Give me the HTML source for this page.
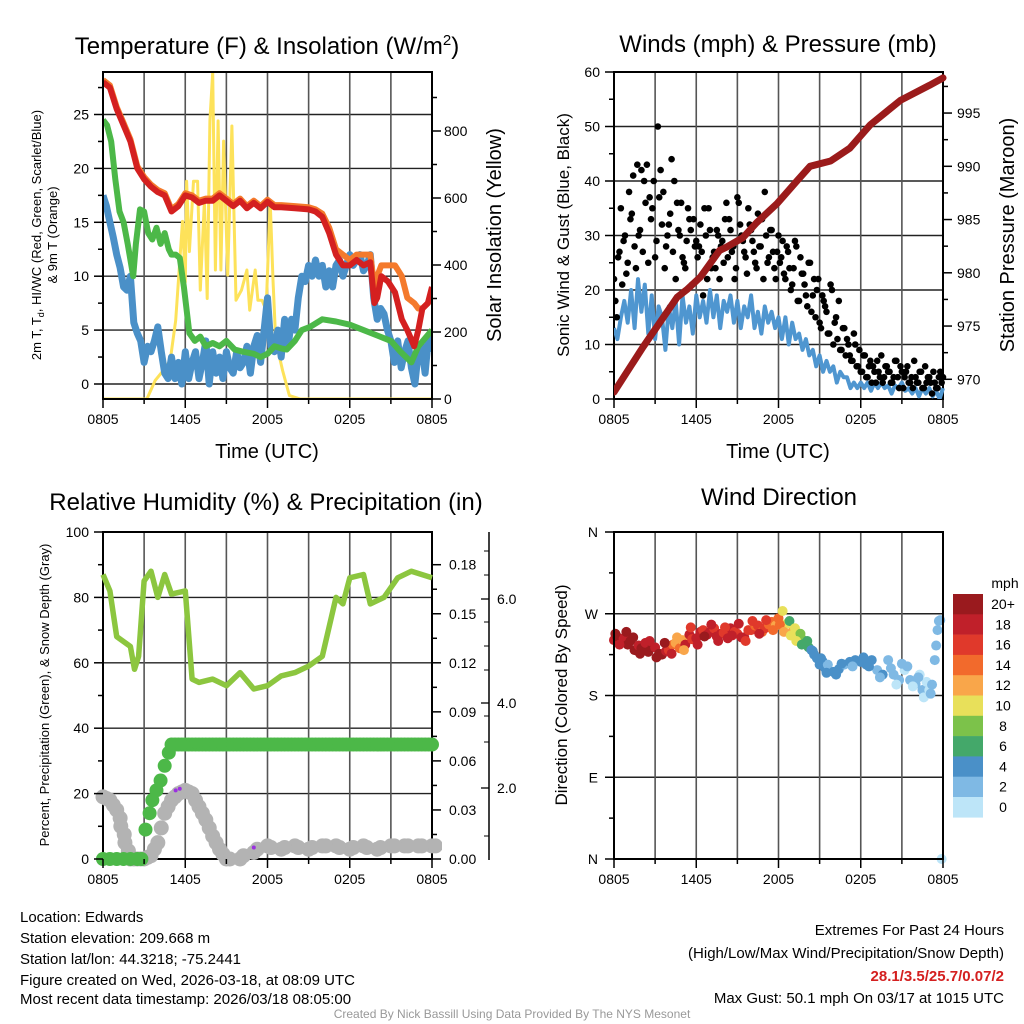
<!DOCTYPE html>
<html><head><meta charset="utf-8"><style>
body{margin:0;background:#fff}
svg{display:block;font-family:"Liberation Sans",Arial,sans-serif}
</style></head><body>
<svg id="s" width="1024" height="1024" viewBox="0 0 1024 1024" xmlns="http://www.w3.org/2000/svg">
<rect width="1024" height="1024" fill="#fff"/>
<g id="g1"></g>
<g id="g2"></g>
<g id="g3"></g>
<g id="g4"></g>
<text x="267" y="54" font-size="24" text-anchor="middle">Temperature (F) &amp; Insolation (W/m<tspan dy="-9" font-size="15">2</tspan><tspan dy="9">)</tspan></text>
<text x="778" y="52" font-size="24" text-anchor="middle">Winds (mph) &amp; Pressure (mb)</text>
<text x="266" y="510" font-size="24" text-anchor="middle">Relative Humidity (%) &amp; Precipitation (in)</text>
<text x="779" y="505" font-size="24" text-anchor="middle">Wind Direction</text>
<text x="267" y="458" font-size="20" text-anchor="middle">Time (UTC)</text>
<text x="778" y="458" font-size="20" text-anchor="middle">Time (UTC)</text>
<text transform="translate(41,235) rotate(-90)" font-size="13" text-anchor="middle">2m T, T<tspan font-size="9" dy="3">d</tspan><tspan dy="-3">, HI/WC (Red, Green, Scarlet/Blue)</tspan></text>
<text transform="translate(57,235) rotate(-90)" font-size="13" text-anchor="middle">&amp; 9m T (Orange)</text>
<text transform="translate(501,235) rotate(-90)" font-size="20" text-anchor="middle">Solar Insolation (Yellow)</text>
<text transform="translate(569,235) rotate(-90)" font-size="17" text-anchor="middle">Sonic Wind &amp; Gust (Blue, Black)</text>
<text transform="translate(1014,235) rotate(-90)" font-size="20" text-anchor="middle">Station Pressure (Maroon)</text>
<text transform="translate(49,695) rotate(-90)" font-size="13" text-anchor="middle">Percent, Precipitation (Green), &amp; Snow Depth (Gray)</text>
<text transform="translate(567,695) rotate(-90)" font-size="17" text-anchor="middle">Direction (Colored By Speed)</text>
<g font-size="15">
<text x="20" y="922">Location: Edwards</text>
<text x="20" y="943">Station elevation: 209.668 m</text>
<text x="20" y="964">Station lat/lon: 44.3218; -75.2441</text>
<text x="20" y="985">Figure created on Wed, 2026-03-18, at 08:09 UTC</text>
<text x="20" y="1004">Most recent data timestamp: 2026/03/18 08:05:00</text>
</g>
<g font-size="15" text-anchor="end">
<text x="1004" y="935">Extremes For Past 24 Hours</text>
<text x="1004" y="958">(High/Low/Max Wind/Precipitation/Snow Depth)</text>
<text x="1004" y="981" fill="#d42020" font-weight="bold">28.1/3.5/25.7/0.07/2</text>
<text x="1004" y="1003">Max Gust: 50.1 mph On 03/17 at 1015 UTC</text>
</g>
<text x="512" y="1018" font-size="12" fill="#999" text-anchor="middle">Created By Nick Bassill Using Data Provided By The NYS Mesonet</text>
</svg>
<script>
// ---- data ----
const xTickLabels = ["0805","1405","2005","0205","0805"];
const tempHours = [0,0.5,1,1.5,2,2.5,3,3.5,4,4.5,5,5.5,6,6.5,7,7.5,8,8.5,9,9.5,10,10.5,11,11.5,12,12.5,13,14,15,15.5,16,16.5,17,17.5,18,18.5,19,19.5,19.8,20,20.3,20.8,21.3,21.8,22.2,22.7,23,23.3,23.7,24];
const tempRed = [28,27.5,25.5,24,22.5,20,19,18.3,17.8,17.5,16,16.5,17.5,17.3,16.8,17,17,17.5,17,16.5,17,16.3,16.8,16.3,16.9,16.4,16.4,16.3,16.2,16,15.5,14,12,11,11,11.5,11,11.3,7.5,8,10,9.5,8.5,6,5,3.5,5,7,7.5,9];
const tempOrange = [28.2,27.7,25.7,24.2,22.7,20.2,19.2,18.5,18,17.7,16.2,16.7,17.7,17.5,17,17.2,17.2,17.7,17.2,16.7,17.2,16.5,17,16.5,17.1,16.6,16.6,16.5,16.4,16.2,15.8,14.5,12.5,12,11.5,12,12,12,9,10,11,11,11,10,8,7.5,7,7,7.5,8.5];
const greenHours = [0,0.3,0.6,0.9,1.2,1.5,1.8,2.2,2.4,2.7,3,3.3,3.6,3.9,4.2,4.5,4.8,5,5.3,5.6,5.9,6.3,6.7,7.1,7.5,8,8.5,9,9.6,10.2,11,11.5,12,12.5,13,13.4,14,14.5,15.1,16,17,18,19,20,21,21.7,22.5,23,24];
const tempGreen = [24.5,24,22.5,19,16,15,13,10,13,16.2,16,14,13.4,14.5,13,14,12.5,12,12,11.7,9,4.7,4,4.4,3.5,3.8,3.5,4,3.2,3,2.8,2.5,2.8,3.5,3.3,3.2,4,5,5.3,6,5.8,5.5,5,4.5,4,3,2,3.5,5];
const blueTemp = [17.5,16.5,15,13.6,12,10.8,9,8.7,10,5.7,4.7,4,2,3.5,3,4,5.3,3,1,0.5,2.5,0.5,2,0,3,0.5,2,3,0.5,2,4,0,3,1,2.5,0.5,3,1.5,1,3,1.5,2,3.5,1,3.5,4.5,2,5,8,3.5,3,5,2.5,6,3.5,6,5,8,10,9.5,11,10,11.5,10,11,9,10.5,9,11,11.5,10,11,12,11,11.5,12,10.5,11,12,8,6,7,6.5,5,4,2,4,1.5,3,4,1.5,0,3,3.5,1,4.5,3];
const solarHours = [0,3.2,3.8,4.4,4.9,5.3,5.8,6.0,6.1,6.3,6.6,6.9,7.1,7.4,7.6,7.8,8.0,8.2,8.4,8.6,8.8,9.1,9.4,9.7,10.1,10.5,10.7,11.1,11.3,11.6,11.9,12.2,12.4,12.6,13.1,13.6,14.4,24];
const solarWatts = [0,0,55,85,115,235,530,350,650,440,650,650,325,590,300,830,975,385,830,385,770,370,815,295,325,385,265,385,295,295,265,590,355,175,85,10,0,0];
const windBlue = [13,11,15,18,14,20,13,22,16,21,12,19,11,17,15,9,17,13,18,10,19,14,17,12,19,15,18,14,20,15,19,13,18,16,19,14,18,13,17,15,19,13,16,12,17,14,16,13,15,11,15,10,14,11,12,9,11,8,9,6,8,5,7,5,6,3,5,4,4,2,3,2,3,2,3,1.5,3,2,3,2,2.5,1,2.5,2,3,1.5,2,1,2,0.5,2,1,2,0.5,1.5,0,2];
const gustValues = [22,15,27,21,30,25,33,41,24,30,42,40,43,37,35,26,50,42,38,28,32,44,40,36,30,26,24,35,31,33,29,28,27,35,22,31,26,24,30,28,25,36,33,27,22,37,32,29,26,35,31,27,24,28,33,38,25,31,27,22,30,26,23,28,24,21,29,18,26,23,19,25,16,22,20,14,19,17,12,21,10,15,18,9,13,11,8,7,10,6,5,8,4,6,3,5,7,4,3,6,5,3,4,7,2,5,4,6,3,2,4,3,5,2,3,4,1,3,2,5,4];
const gustValues2 = [18,26,35,29,23,38,34,28,43,31,27,36,25,33,40,29,37,32,24,30,34,27,22,31,36,25,29,33,21,28,26,32,19,30,35,24,27,31,22,29,33,26,31,28,24,36,30,27,23,32,29,25,34,28,22,30,26,31,24,27,25,29,22,27,20,24,28,18,23,21,17,25,19,15,22,13,18,16,12,20,14,11,9,13,8,10,7,12,6,9,5,8,4,7,6,3,5,8,4,6,5,3,7,4,6,2,5,3,4,7,3,5,2,6,4,3,5,2,4,3];
const pressHours = [0,2.1,4.6,5.3,6.3,7.7,8.2,9.4,10.4,11.9,13.4,14.3,15.8,17.2,18.7,20.9,23,24];
const pressVals = [968.8,973,977.7,978.4,979.6,982.1,982.4,983.3,984.7,986.5,988.7,990,990.5,991.7,993.9,996.2,997.6,998.3];
const rhHours = [0,0.5,1,2,2.3,2.6,3,3.5,4,4.5,5,6,6.5,7,8,9,10,11,12,13,14,15,16,17,17.5,18,19,19.5,20.5,21.5,22.5,24];
const rhVals = [87,82,68,65,58,62,85,88,80,87,81,82,55,54,55,53,57,52,53,56,57,59,62,80,78,86,87,78,80,86,88,86];
const precipHours = [0,0.5,1,1.5,2,2.5,2.8,3.1,3.4,3.6,3.9,4.2,4.5,4.8,5];
const precipVals = [0,0,0,0,0,0,0,0.018,0.028,0.036,0.042,0.048,0.057,0.065,0.07];
const snowHours = [0,0.5,1,1.3,1.6,2,2.5,3,3.5,4,4.5,5,5.5,6,6.5,7,7.5,8,8.5,9,10,11,12,13,14,15,16,17,18,19,20,21,22,23,24];
const snowVals = [19,18,15,10,5,0,0,0,1,5,14,18,20,21,20,16,12,7,3,0,0,2,4,3,4,3,4,4,3,4,3,4,4,4,4];
const markHours = [5.3,5.6,11];
const markVals = [21,21.5,3.5];
const dirHours = [0,0.2,0.5,0.7,1,1.2,1.5,1.8,2,2.3,2.5,2.8,3,3.3,3.5,3.8,4,4.3,4.5,4.8,5,5.2,5.5,5.7,6,6.3,6.5,6.8,7,7.3,7.5,7.8,8,8.3,8.5,8.8,9,9.3,9.5,9.8,10,10.3,10.5,10.8,11,11.3,11.5,11.8,12,12.3,12.6,12.8,13,13.2,13.4,13.6,13.8,14,14.2,14.4,14.6,14.8,15,15.2,15.4,15.6,16,16.4,16.8,17.2,17.6,18,18.4,18.8,19.2,19.6,20,20.4,20.8,21.2,21.4,21.6,22,22.3,22.5,22.8,23,23.2,23.4,23.6,23.8,23.9,
0.1,0.4,0.9,1.4,1.9,2.6,3.1,3.7,4.2,4.6,5.1,5.6,6.1,6.6,7.1,7.6,8.1,8.6,9.1,9.6,10.1,10.6,11.1,11.6,12.1,12.4,12.9,13.3,13.7,14.1,14.5,15.1,15.5,16.2,16.6,17.4,18.2,18.6,19.4,20.2,20.6,21.0,21.8,22.2,22.6,23.1,23.5,23.7];
const dirDeg = [241,245,238,243,236,240,230,235,232,238,228,233,233,226,225,229,230,236,238,232,241,236,247,242,243,250,252,247,250,254,245,248,249,243,254,250,248,244,244,252,252,257,257,250,254,258,261,257,265,273,259,262,250,254,245,248,241,238,233,230,225,221,214,218,210,214,206,209,214,217,219,217,214,219,208,203,219,203,197,208,212,197,193,203,186,195,186,192,219,252,263,0,
248,236,250,244,226,240,222,238,226,244,230,255,236,245,258,240,255,246,259,240,262,248,263,252,258,250,246,240,236,240,229,221,205,203,215,212,222,212,200,210,192,215,190,200,178,182,235,262];
const dirSpd = [19,21,20,19,21,20,21,19,20,18,21,20,19,21,20,19,17,14,12,15,13,18,19,17,18,19,17,19,18,17,19,18,17,19,18,17,16,18,19,17,16,15,17,15,16,14,15,13,14,11,10,7,12,11,10,9,8,7,6,5,5,4,4,5,4,3,4,4,3,4,4,4,4,4,3,4,2,3,2,1,2,3,2,1,2,0,1,2,3,2,2,0,
20,19,21,20,20,19,21,20,18,13,12,16,19,20,18,19,17,19,18,17,16,18,17,14,15,12,11,10,7,6,4,4,4,4,4,3,4,4,2,2,1,2,1,2,1,2,2,2];
const spdColors = ["#bde5f8","#7fb9e4","#4a90c8","#44a86a","#7cc24a","#e8e05a","#f9a64a","#f26a2c","#e0392b","#c0202a","#9a1a1e"];
const spdLabels = ["0","2","4","6","8","10","12","14","16","18","20+"];

// ---- helpers ----
const NS="http://www.w3.org/2000/svg";
function mk(parent,tag,attrs){const e=document.createElementNS(NS,tag);for(const k in attrs)e.setAttribute(k,attrs[k]);parent.appendChild(e);return e;}
function txt(parent,x,y,s,anchor,size){const t=mk(parent,"text",{x:x,y:y,"text-anchor":anchor||"middle","font-size":size||14});t.textContent=s;return t;}
function pathFrom(xs,ys,fx,fy){let d="";for(let i=0;i<xs.length;i++)d+=(i?"L":"M")+fx(xs[i]).toFixed(1)+","+fy(ys[i]).toFixed(1);return d;}
function frame(g,x0,y0,x1,y1,hgrid,vgrid){
  for(const y of hgrid){const l=mk(g,"line",{x1:x0,x2:x1,y1:y,y2:y,stroke:"#222","stroke-width":1.4});}
  for(const x of vgrid){const l=mk(g,"line",{x1:x,x2:x,y1:y0,y2:y1,stroke:"#555","stroke-width":1.6});}
  const r=mk(g,"rect",{x:x0,y:y0,width:x1-x0,height:y1-y0,fill:"none",stroke:"#000","stroke-width":2});
  
  
}
function xAxis(g,x0,x1,y1,fx){
  for(let h=0;h<=24;h+=3){const x=fx(h);mk(g,"line",{x1:x,x2:x,y1:y1,y2:y1+(h%6?5:9),stroke:"#000","stroke-width":1.5});}
  xTickLabels.forEach((s,i)=>{const t=txt(g,fx(i*6),y1+25,s,"middle",14);});
}
function dots(g,xs,ys,fx,fy,r,color,name){
  for(let i=0;i<xs.length;i++){const c=mk(g,"circle",{cx:fx(xs[i]),cy:fy(ys[i]),r:r,fill:color});}
}

// ---- panel 1 ----
(function(){
const g=document.getElementById("g1");
const X0=103,X1=432,Y0=72,Y1=399;
const fx=h=>X0+h*(X1-X0)/24, fy=v=>384-v*10.78, fr=w=>399-w*0.335;
const hg=[0,5,10,15,20,25].map(fy), vg=[3,6,9,12,15,18,21].map(fx);
frame(g,X0,Y0,X1,Y1,hg,vg);
const clip=mk(g,"clipPath",{id:"c1"});mk(clip,"rect",{x:X0,y:Y0,width:X1-X0,height:Y1-Y0});
const pg=mk(g,"g",{"clip-path":"url(#c1)"});
const ys=mk(pg,"path",{d:pathFrom(solarHours,solarWatts,fx,fr),fill:"none",stroke:"#fde25a","stroke-width":3,"stroke-linejoin":"round"});

const bh=blueTemp.map((v,i)=>i*0.25);
const bl=mk(pg,"path",{d:pathFrom(bh,blueTemp,fx,fy),fill:"none",stroke:"#4a90c8","stroke-width":7,"stroke-linejoin":"round"});

const gl=mk(pg,"path",{d:pathFrom(greenHours,tempGreen,fx,fy),fill:"none",stroke:"#4cb848","stroke-width":6,"stroke-linejoin":"round"});

const ol=mk(pg,"path",{d:pathFrom(tempHours,tempOrange,fx,fy),fill:"none",stroke:"#f47a2c","stroke-width":6,"stroke-linejoin":"round"});

const rl=mk(pg,"path",{d:pathFrom(tempHours,tempRed,fx,fy),fill:"none",stroke:"#d42020","stroke-width":6,"stroke-linejoin":"round"});

mk(g,"rect",{x:X0,y:Y0,width:X1-X0,height:Y1-Y0,fill:"none",stroke:"#000","stroke-width":2});
for(let v=0;v<=27.5;v+=2.5){mk(g,"line",{x1:X0,x2:X0-(v%5?5:9),y1:fy(v),y2:fy(v),stroke:"#000","stroke-width":1.5});}
for(let v=0;v<=25;v+=5){const t=txt(g,X0-14,fy(v)+5,String(v),"end",14);}
for(let w=0;w<=900;w+=100){mk(g,"line",{x1:X1,x2:X1+(w%200?5:9),y1:fr(w),y2:fr(w),stroke:"#000","stroke-width":1.5});}
for(let w=0;w<=800;w+=200){const t=txt(g,X1+12,fr(w)+5,String(w),"start",14);}
xAxis(g,X0,X1,Y1,fx);
})();

// ---- panel 2 ----
(function(){
const g=document.getElementById("g2");
const X0=614,X1=943,Y0=72,Y1=399;
const fx=h=>X0+h*(X1-X0)/24, fy=v=>399-v*5.45, fp=p=>379.3-(p-970)*10.65;
const hg=[10,20,30,40,50].map(fy), vg=[3,6,9,12,15,18,21].map(fx);
frame(g,X0,Y0,X1,Y1,hg,vg);
const clip=mk(g,"clipPath",{id:"c2"});mk(clip,"rect",{x:X0,y:Y0-4,width:X1-X0+4,height:Y1-Y0+4});
const pg=mk(g,"g",{"clip-path":"url(#c2)"});
const bh=windBlue.map((v,i)=>i*0.25);
const bl=mk(pg,"path",{d:pathFrom(bh,windBlue,fx,fy),fill:"none",stroke:"#4f96d0","stroke-width":4,"stroke-linejoin":"round"});

const gh=gustValues.map((v,i)=>i*0.2);
dots(pg,gh,gustValues,fx,fy,3.3,"#000","gust-point");
const gh2=gustValues2.map((v,i)=>i*0.2+0.1);
dots(pg,gh2,gustValues2,fx,fy,3.3,"#000","gust-point");
const pl=mk(pg,"path",{d:pathFrom(pressHours,pressVals,fx,fp),fill:"none",stroke:"#9b1b1b","stroke-width":7,"stroke-linejoin":"round","stroke-linecap":"round"});

for(let v=0;v<=60;v+=5){mk(g,"line",{x1:X0,x2:X0-(v%10?5:9),y1:fy(v),y2:fy(v),stroke:"#000","stroke-width":1.5});}
for(let v=0;v<=60;v+=10){const t=txt(g,X0-14,fy(v)+5,String(v),"end",14);}
for(let p=970;p<=997.5;p+=2.5){mk(g,"line",{x1:X1,x2:X1+(p%5?5:9),y1:fp(p),y2:fp(p),stroke:"#000","stroke-width":1.5});}
for(let p=970;p<=995;p+=5){const t=txt(g,X1+14,fp(p)+5,String(p),"start",14);}
xAxis(g,X0,X1,Y1,fx);
})();

// ---- panel 3 ----
(function(){
const g=document.getElementById("g3");
const X0=103,X1=432,Y0=532,Y1=859;
const fx=h=>X0+h*(X1-X0)/24, fy=v=>859-v*3.27, fpr=v=>859-v*1635;
const hg=[20,40,60,80].map(fy), vg=[3,6,9,12,15,18,21].map(fx);
frame(g,X0,Y0,X1,Y1,hg,vg);
const clip=mk(g,"clipPath",{id:"c3"});mk(clip,"rect",{x:X0-10,y:Y0,width:X1-X0+20,height:Y1-Y0+10});
const pg=mk(g,"g",{"clip-path":"url(#c3)"});
dots(pg,snowHours.concat(snowHours.map(h=>h+0.25)),snowVals.concat(snowVals.map((v,i)=>i+1<snowVals.length?(v+snowVals[i+1])/2:v)),fx,fy,7.5,"#b3b3b3","snow-depth-point");
const allPH=precipHours.slice(), allPV=precipVals.slice();
for(let h=5.25;h<=24.01;h+=0.25){allPH.push(h);allPV.push(precipVals[precipVals.length-1]);}
dots(pg,allPH,allPV,fx,fpr,7,"#4cb848","precip-point");
const rl=mk(pg,"path",{d:pathFrom(rhHours,rhVals,fx,fy),fill:"none",stroke:"#8cc63f","stroke-width":5.5,"stroke-linejoin":"round"});

dots(pg,markHours,markVals,fx,fy,2,"#9b30e0","snow-marker");
for(let v=0;v<=100;v+=10){mk(g,"line",{x1:X0,x2:X0-(v%20?5:9),y1:fy(v),y2:fy(v),stroke:"#000","stroke-width":1.5});}
for(let v=0;v<=100;v+=20){const t=txt(g,X0-14,fy(v)+5,String(v),"end",14);}
for(let v=0;v<=0.195;v+=0.015){const maj=Math.round(v*1000)%30===0;mk(g,"line",{x1:X1,x2:X1+(maj?9:5),y1:fpr(v),y2:fpr(v),stroke:"#000","stroke-width":1.5});}
for(let k=0;k<=6;k++){const v=k*0.03;const t=txt(g,X1+17,fpr(v)+5,v.toFixed(2),"start",14);}
mk(g,"line",{x1:489,x2:489,y1:532,y2:860,stroke:"#000","stroke-width":1.5});
[[599,"6.0"],[703,"4.0"],[788,"2.0"]].forEach(a=>{mk(g,"line",{x1:489,x2:481,y1:a[0],y2:a[0],stroke:"#000","stroke-width":1.3});const t=txt(g,497,a[0]+5,a[1],"start",14);});
[551,575,622,646,670,716,742,836].forEach(y=>mk(g,"line",{x1:489,x2:484,y1:y,y2:y,stroke:"#000","stroke-width":1}));
xAxis(g,X0,X1,Y1,fx);
})();

// ---- panel 4 ----
(function(){
const g=document.getElementById("g4");
const X0=614,X1=943,Y0=532,Y1=859;
const fx=h=>X0+h*(X1-X0)/24, fy=d=>859-d*327/360;
const hg=[90,180,270].map(fy), vg=[3,6,9,12,15,18,21].map(fx);
frame(g,X0,Y0,X1,Y1,hg,vg);
for(let i=0;i<dirHours.length;i++){
  const s=Math.min(10,Math.floor(dirSpd[i]/2));
  const c=mk(g,"circle",{cx:fx(dirHours[i]),cy:fy(dirDeg[i]),r:5,fill:spdColors[s]});
  
  
}
mk(g,"rect",{x:X0,y:Y0,width:X1-X0,height:Y1-Y0,fill:"none",stroke:"#000","stroke-width":2});
["N","E","S","W","N"].forEach((s,i)=>{const y=fy(i*90);mk(g,"line",{x1:X0,x2:X0-9,y1:y,y2:y,stroke:"#000","stroke-width":1.5});const t=txt(g,X0-16,y+5,s,"end",14);});
for(let i=0;i<4;i++){const y=fy(i*90+45);mk(g,"line",{x1:X0,x2:X0-5,y1:y,y2:y,stroke:"#000","stroke-width":1.5});}
xAxis(g,X0,X1,Y1,fx);
const cb=mk(g,"g",{});


txt(cb,1005,588,"mph","middle",14);
for(let k=0;k<11;k++){
  const idx=10-k, y=594+k*20.3;
  mk(cb,"rect",{x:953,y:y,width:30,height:20.6,fill:spdColors[idx]});
  const t=txt(cb,1003,y+15,spdLabels[idx],"middle",14);
  
  
}
})();
</script>
</body></html>
